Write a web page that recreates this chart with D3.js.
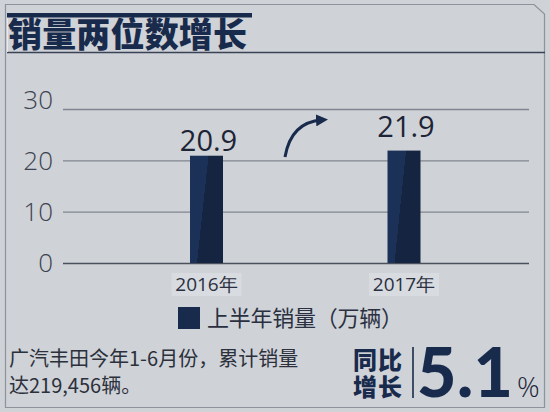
<!DOCTYPE html>
<html><head><meta charset="utf-8">
<script src="https://cdn.jsdelivr.net/npm/d3@7"></script>
<style>
html,body{margin:0;padding:0;background:#cfd2d7;}
svg{display:block;}
</style></head>
<body>
<svg id="c" width="550" height="412"></svg>
<script>
const title = "销量两位数增长";
const categories = ["2016年", "2017年"];
const values = [20.9, 21.9];
const valueLabels = ["20.9", "21.9"];
const yTicks = [0, 10, 20, 30];
const legendLabel = "上半年销量（万辆）";
const noteLines = ["广汽丰田今年1-6月份，累计销量", "达219,456辆。"];
const growthLabel = ["同比", "增长"];
const growthValue = "5.1";

const svg = d3.select("#c");
const navy = "#182b4c";
const cjk = "'Noto Sans CJK SC','Noto Sans',sans-serif";
const num = "'Open Sans','Noto Sans',sans-serif";

svg.append("rect").attr("width",550).attr("height",412).attr("fill","#cfd2d7");

// frame with cut corner
svg.append("path")
  .attr("d","M5.5,4.5 H534 L544.5,14 V407.5 H5.5 Z")
  .attr("fill","none").attr("stroke","#8d929b").attr("stroke-width",1.2);

// title decorations
svg.append("rect").attr("x",7).attr("y",13).attr("width",245).attr("height",4.5).attr("fill",navy);
svg.append("line").attr("x1",7).attr("x2",545).attr("y1",52.5).attr("y2",52.5).attr("stroke","#3a4356").attr("stroke-width",1.5);
svg.append("line").attr("x1",7.5).attr("x2",7.5).attr("y1",18).attr("y2",52).attr("stroke","#e6e8ec").attr("stroke-width",1);
svg.append("text").attr("x",8).attr("y",47).attr("font-family",cjk).attr("font-weight",900)
  .attr("font-size",34).attr("fill",navy).attr("textLength",239).text(title);

// scales
const y = d3.scaleLinear().domain([0,30]).range([263,109]);
const x = d3.scalePoint().domain(categories).range([206.5,404]);
const barW = 33;
const labelGap = [5, 14];

// grid
const g = svg.append("g");
g.selectAll("line.grid").data(yTicks).join("line")
  .attr("x1",63).attr("x2",529)
  .attr("y1",d=>y(d)+0.5).attr("y2",d=>y(d)+0.5)
  .attr("stroke",d=>d===0?"#4a505c":"#80858f").attr("stroke-width",d=>d===0?1.6:1.3);
g.selectAll("text.tick").data(yTicks).join("text")
  .attr("x",53).attr("y",d=>y(d)+(d===30?-9:0)).attr("dy","0.36em")
  .attr("text-anchor","end").attr("font-family",num).attr("font-weight",300)
  .attr("font-size",26).attr("fill","#3d4350").text(d=>d);

// gradient
const defs = svg.append("defs");
const gr = defs.append("linearGradient").attr("id","bg").attr("x1","0").attr("y1","0").attr("x2","1").attr("y2","0.35");
gr.append("stop").attr("offset","0.5").attr("stop-color","#1c3158");
gr.append("stop").attr("offset","0.5").attr("stop-color","#142441");

// bars
svg.selectAll("rect.bar").data(values).join("rect")
  .attr("x",(d,i)=>x(categories[i])-barW/2).attr("width",barW)
  .attr("y",d=>y(d)).attr("height",d=>y(0)-y(d)).attr("fill","url(#bg)");

// value labels
svg.selectAll("text.val").data(values).join("text")
  .attr("x",(d,i)=>x(categories[i])+2).attr("y",(d,i)=>y(d)-labelGap[i])
  .attr("text-anchor","middle").attr("font-family",num).attr("font-size",29)
  .attr("fill","#1c2436").text((d,i)=>valueLabels[i]);

// category labels with light boxes
const cl = svg.selectAll("g.cat").data(categories).join("g");
cl.append("rect").attr("x",d=>x(d)-35).attr("y",273).attr("width",70).attr("height",23).attr("fill","#d8dbe0");
cl.append("text").attr("x",d=>x(d)).attr("y",291).attr("text-anchor","middle")
  .attr("font-family",num).attr("font-size",19).attr("fill","#2a3040").text(d=>d);

// arrow
defs.append("marker").attr("id","ah").attr("viewBox","0 0 10 10").attr("refX",5).attr("refY",5)
  .attr("markerWidth",4).attr("markerHeight",4).attr("orient","auto")
  .append("path").attr("d","M0,0 L10,5 L0,10 Z").attr("fill",navy);
svg.append("path").attr("d","M285,157 Q291,122 322,120")
  .attr("fill","none").attr("stroke",navy).attr("stroke-width",3).attr("marker-end","url(#ah)");

// legend
svg.append("rect").attr("x",178).attr("y",307).attr("width",22).attr("height",22).attr("fill",navy);
svg.append("text").attr("x",207).attr("y",326).attr("font-family",cjk).attr("font-size",22)
  .attr("fill","#2a3040").attr("textLength",196).text(legendLabel);

// note
svg.selectAll("text.note").data(noteLines).join("text")
  .attr("x",9).attr("y",(d,i)=>366+i*27).attr("font-family",cjk).attr("font-size",20)
  .attr("fill","#2b303b").text(d=>d);

// growth block (one text, two lines)
const gt = svg.append("text").attr("font-family",cjk).attr("font-weight",900)
  .attr("font-size",24).attr("fill",navy);
gt.selectAll("tspan").data(growthLabel).join("tspan")
  .attr("x",353).attr("y",(d,i)=>369+i*27).attr("textLength",49).text(d=>d);
svg.append("line").attr("x1",413).attr("x2",413).attr("y1",347).attr("y2",398).attr("stroke",navy).attr("stroke-width",1.6);
svg.append("text").attr("x",417).attr("y",397).attr("font-family","Lato,'Open Sans',sans-serif").attr("font-weight",900)
  .attr("font-size",68).attr("fill",navy).attr("textLength",96).text(growthValue);
svg.append("text").attr("x",517).attr("y",397).attr("font-family",num).attr("font-weight",300)
  .attr("font-size",28).attr("fill","#1c2436").text("%");
</script>
</body></html>
